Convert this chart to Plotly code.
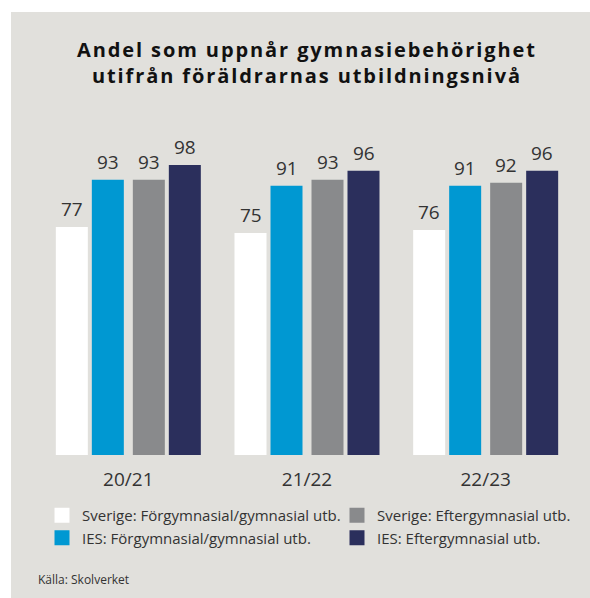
import plotly.graph_objects as go

categories = ["20/21", "21/22", "22/23"]
series_names = [
    "Sverige: Förgymnasial/gymnasial utb.",
    "IES: Förgymnasial/gymnasial utb.",
    "Sverige: Eftergymnasial utb.",
    "IES: Eftergymnasial utb.",
]
sverige_forgymn = [77, 75, 76]
ies_forgymn = [93, 91, 91]
sverige_eftergymn = [93, 93, 92]
ies_eftergymn = [98, 96, 96]

title_text = "Andel som uppnår gymnasiebehörighet<br>utifrån föräldrarnas utbildningsnivå"
source_text = "Källa: Skolverket"

values = [sverige_forgymn, ies_forgymn, sverige_eftergymn, ies_eftergymn]
colors = ["#ffffff", "#0098d2", "#898a8c", "#2b2f5c"]
legend_ids = ["legend", "legend", "legend2", "legend2"]

W, H = 590, 598
ML, MR, MT, MB = 39, 15, 159, 143
plot_w = W - ML - MR
plot_h = H - MT - MB
unit = plot_w / 3.0
bar_w = 32 / unit
offsets_px = [-72.5, -36.5, 4.5, 40.5]

FONT = "Open Sans"
TXT = "#333333"

px2x = lambda px: (px - ML) / plot_w
py2y = lambda py: (H - MB - py) / plot_h

fig = go.Figure()
for name, vals, col, off in zip(series_names, values, colors, offsets_px):
    fig.add_trace(go.Bar(
        x=categories, y=vals, name=name,
        marker=dict(color=col, line=dict(width=0)),
        width=bar_w, offset=off / unit,
        cliponaxis=False, showlegend=False, hoverinfo="x+y+name",
    ))
    # value labels above bars
    for i, v in enumerate(vals):
        fig.add_annotation(
            x=i + (off + 16) / unit, y=v, xref="x", yref="y",
            text=str(v), showarrow=False, xanchor="center", yanchor="bottom",
            yshift=3, font=dict(family=FONT, size=19, color=TXT),
        )

for name, col, lg in zip(series_names, colors, legend_ids):
    fig.add_trace(go.Scatter(
        x=[None], y=[None], mode="markers", name=name, legend=lg,
        marker=dict(symbol="square", size=15, color=col, line=dict(width=0)),
        showlegend=True,
    ))

# gray panel
fig.add_shape(type="rect", xref="paper", yref="paper",
              x0=px2x(11), x1=px2x(600), y0=py2y(610), y1=py2y(12),
              fillcolor="#e1e0dc", line=dict(width=0), layer="below")

ls = '<span style="letter-spacing:1.9px">'
fig.add_annotation(text=ls + title_text.replace("<br>", "</span><br>" + ls) + "</span>",
                   xref="paper", yref="paper",
                   x=px2x(306.5), y=py2y(62), xanchor="center", yanchor="middle",
                   showarrow=False, align="center",
                   font=dict(family=FONT, size=20, color="#111111", weight="bold"))

fig.add_annotation(text=source_text, xref="paper", yref="paper",
                   x=px2x(36), y=py2y(579), xanchor="left", yanchor="middle",
                   showarrow=False, font=dict(family=FONT, size=12, color=TXT))

legend_common = dict(orientation="v", xanchor="left", yanchor="top",
                     font=dict(family=FONT, size=15, color=TXT),
                     bgcolor="rgba(0,0,0,0)", borderwidth=0, tracegroupgap=0,
                     itemwidth=30, traceorder="normal")

fig.update_layout(
    width=W, height=H,
    margin=dict(l=ML, r=MR, t=MT, b=MB, pad=0),
    paper_bgcolor="#ffffff", plot_bgcolor="rgba(0,0,0,0)",
    barmode="overlay",
    font=dict(family=FONT, color=TXT),
    xaxis=dict(type="category", range=[-0.5, 2.5], showgrid=False, zeroline=False,
               showline=False, ticks="outside", ticklen=7, tickcolor="rgba(0,0,0,0)",
               tickfont=dict(family=FONT, size=19, color=TXT)),
    yaxis=dict(range=[0, 100], visible=False, showgrid=False, zeroline=False),
    legend=dict(x=px2x(42), y=py2y(499), **legend_common),
    legend2=dict(x=px2x(337), y=py2y(499), **legend_common),
)

fig.write_html("out.html", config={"displayModeBar": False},
               post_script="document.body.style.margin='0';document.documentElement.style.overflow='hidden';")
